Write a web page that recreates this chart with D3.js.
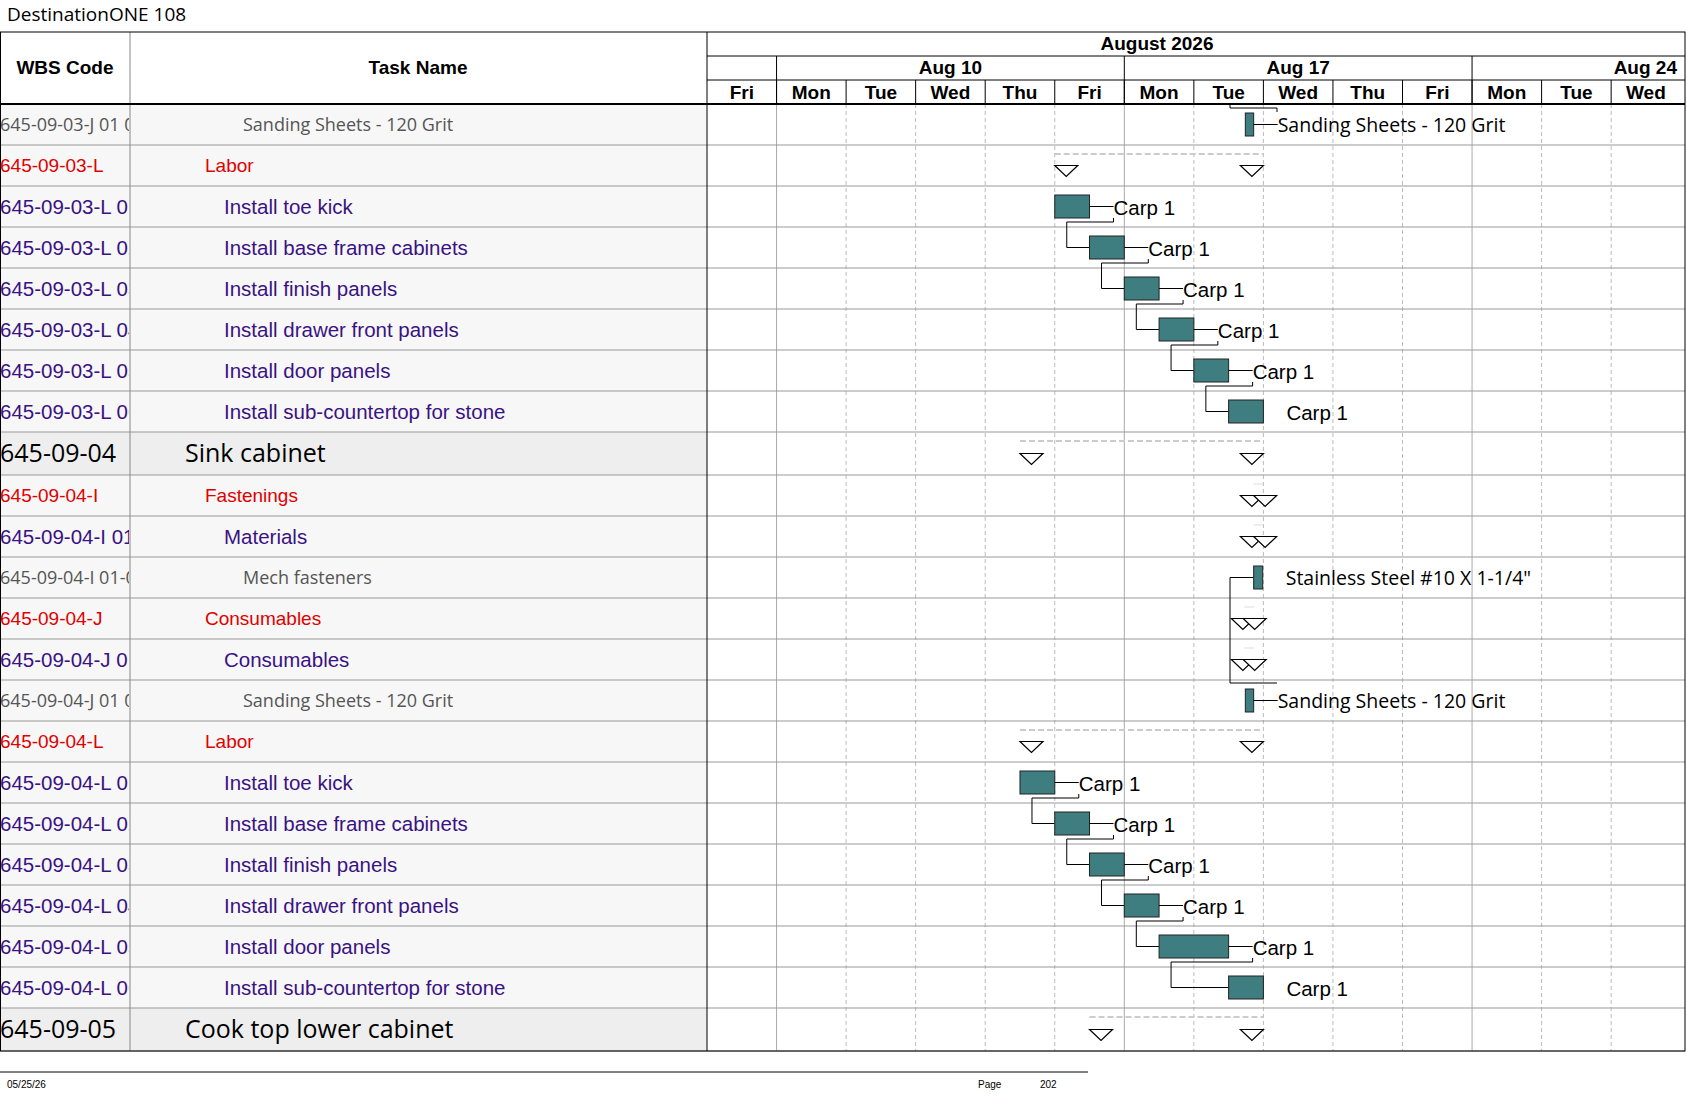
<!DOCTYPE html>
<html>
<head>
<meta charset="utf-8">
<script src="https://cdn.jsdelivr.net/npm/d3@7"></script>
<style>
  body { margin: 0; background: #fff; }
  svg { display: block; }
</style>
</head>
<body>
<svg id="chart" width="1687" height="1097"></svg>
<script>
// working-day index: 0 = Fri Aug 7, 1 = Mon Aug 10 ... (weekends collapsed)
var dayNames = ["Fri", "Mon", "Tue", "Wed", "Thu", "Fri", "Mon", "Tue", "Wed", "Thu", "Fri", "Mon", "Tue", "Wed"];
var weekLabels = ["Aug 10", "Aug 17", "Aug 24"];
var weekStarts = [1, 6, 11];

var wbsCodes = ["645-09-03-J 01 01", "645-09-03-L", "645-09-03-L 01", "645-09-03-L 02", "645-09-03-L 03",
  "645-09-03-L 04", "645-09-03-L 05", "645-09-03-L 06", "645-09-04", "645-09-04-I", "645-09-04-I 01",
  "645-09-04-I 01-01", "645-09-04-J", "645-09-04-J 01", "645-09-04-J 01 01", "645-09-04-L",
  "645-09-04-L 01", "645-09-04-L 02", "645-09-04-L 03", "645-09-04-L 04", "645-09-04-L 05",
  "645-09-04-L 06", "645-09-05"];
var taskNames = ["Sanding Sheets - 120 Grit", "Labor", "Install toe kick", "Install base frame cabinets",
  "Install finish panels", "Install drawer front panels", "Install door panels", "Install sub-countertop for stone",
  "Sink cabinet", "Fastenings", "Materials", "Mech fasteners", "Consumables", "Consumables",
  "Sanding Sheets - 120 Grit", "Labor", "Install toe kick", "Install base frame cabinets", "Install finish panels",
  "Install drawer front panels", "Install door panels", "Install sub-countertop for stone", "Cook top lower cabinet"];
// row kinds: top = summary, grp = red group, task = purple, res = grey resource
var rowKinds = ["res", "grp", "task", "task", "task", "task", "task", "task", "top", "grp", "task", "res",
  "grp", "task", "res", "grp", "task", "task", "task", "task", "task", "task", "top"];

// bars: row, start, end (working days), label
var barRows   = [0, 2, 3, 4, 5, 6, 7, 11, 14, 16, 17, 18, 19, 20, 21];
var barStarts = [7.74, 5.0, 5.5, 6.0, 6.5, 7.0, 7.5, 7.86, 7.74, 4.5, 5.0, 5.5, 6.0, 6.5, 7.5];
var barEnds   = [7.86, 5.5, 6.0, 6.5, 7.0, 7.5, 8.0, 7.99, 7.86, 5.0, 5.5, 6.0, 6.5, 7.5, 8.0];
var barLabels = ["Sanding Sheets - 120 Grit", "Carp 1", "Carp 1", "Carp 1", "Carp 1", "Carp 1", "Carp 1",
  "Stainless Steel #10 X 1-1/4\"", "Sanding Sheets - 120 Grit", "Carp 1", "Carp 1", "Carp 1", "Carp 1", "Carp 1", "Carp 1"];

// summary spans (start / end triangles)
var sumRows   = [1, 8, 15, 22];
var sumStarts = [5.0, 4.5, 4.5, 5.5];
var sumEnds   = [8.0, 8.0, 8.0, 8.0];
// rows with two end triangles
var dblRows = [9, 10, 12, 13];
var dblEnds = [[8.0, 8.19], [8.0, 8.19], [7.87, 8.04], [7.87, 8.04]];

var svg = d3.select("#chart");
var rowH = 41, topH = 43, bodyTop = 104;
var rowTops = [], rowHs = [];
var yy = bodyTop;
rowKinds.forEach(function (k) { var h = k == "top" ? topH : rowH; rowTops.push(yy); rowHs.push(h); yy += h; });
var bodyBottom = yy;

var ganttL = 707, ganttR = 1685;
var x = d3.scaleLinear().domain([0, 1]).range([ganttL, ganttL + 69.55]);

var colors = { top: "#000", grp: "#e00000", task: "#3a1283", res: "#555" };
var fonts = { top: "25px 'Open Sans', sans-serif", grp: "19px 'Liberation Sans', Arial, sans-serif",
  task: "20.5px 'Liberation Sans', Arial, sans-serif", res: "18px 'Open Sans', sans-serif" };
var indent = { top: 185, grp: 205, task: 224, res: 243 };

// title
svg.append("text").attr("x", 7).attr("y", 21).style("font", "19px 'Open Sans', sans-serif").text("DestinationONE 108");

// row backgrounds (table)
rowKinds.forEach(function (k, i) {
  svg.append("rect").attr("x", 0).attr("y", rowTops[i]).attr("width", ganttL).attr("height", rowHs[i])
    .attr("fill", k == "top" ? "#eeeeee" : "#f7f7f7");
});

// gantt vertical grid
d3.range(1, dayNames.length).forEach(function (d) {
  var wk = weekStarts.indexOf(d) >= 0;
  svg.append("line").attr("x1", x(d)).attr("x2", x(d)).attr("y1", bodyTop).attr("y2", bodyBottom)
    .attr("stroke", wk ? "#aaa" : "#bbb").attr("stroke-width", 1).attr("stroke-dasharray", wk ? null : "4,3");
});

// horizontal row lines
rowTops.concat([bodyBottom]).forEach(function (t) {
  svg.append("line").attr("x1", 0).attr("x2", ganttR).attr("y1", t).attr("y2", t).attr("stroke", "#999");
});
svg.append("line").attr("x1", 130).attr("x2", 130).attr("y1", 32).attr("y2", bodyBottom).attr("stroke", "#888");
svg.append("line").attr("x1", ganttL).attr("x2", ganttL).attr("y1", 32).attr("y2", bodyBottom).attr("stroke", "#000");

// header frame
svg.append("rect").attr("x", 0.5).attr("y", 32).attr("width", ganttR - 0.5).attr("height", bodyBottom - 32)
  .attr("fill", "none").attr("stroke", "#000");
svg.append("line").attr("x1", 0).attr("x2", ganttR).attr("y1", bodyTop).attr("y2", bodyTop).attr("stroke", "#000").attr("stroke-width", 2);
svg.append("line").attr("x1", ganttL).attr("x2", ganttR).attr("y1", 56).attr("y2", 56).attr("stroke", "#000");
svg.append("line").attr("x1", ganttL).attr("x2", ganttR).attr("y1", 80).attr("y2", 80).attr("stroke", "#000");

var hdrFont = "bold 19px 'Liberation Sans Narrow', 'Liberation Sans', Arial, sans-serif";
svg.append("text").attr("x", 65).attr("y", 74).attr("text-anchor", "middle").style("font", "bold 19px 'Liberation Sans', Arial, sans-serif").text("WBS Code");
svg.append("text").attr("x", 418).attr("y", 74).attr("text-anchor", "middle").style("font", "bold 19px 'Liberation Sans', Arial, sans-serif").text("Task Name");
svg.append("text").attr("x", 1157).attr("y", 50).attr("text-anchor", "middle").style("font", hdrFont).text("August 2026");

weekStarts.forEach(function (d, i) {
  svg.append("line").attr("x1", x(d)).attr("x2", x(d)).attr("y1", 56).attr("y2", bodyTop).attr("stroke", "#000");
  var last = i == weekStarts.length - 1;
  svg.append("text").attr("x", last ? ganttR - 8 : (x(d) + x(d + 5)) / 2).attr("y", 74)
    .attr("text-anchor", last ? "end" : "middle").style("font", hdrFont).text(weekLabels[i]);
});
dayNames.forEach(function (n, d) {
  if (d > 0) svg.append("line").attr("x1", x(d)).attr("x2", x(d)).attr("y1", 80).attr("y2", bodyTop).attr("stroke", "#000");
  svg.append("text").attr("x", x(d + 0.5)).attr("y", 99).attr("text-anchor", "middle").style("font", hdrFont).text(n);
});

// table text
svg.append("clipPath").attr("id", "wbsClip").append("rect").attr("x", 0).attr("y", 0).attr("width", 129).attr("height", 1097);
rowKinds.forEach(function (k, i) {
  var cy = rowTops[i] + rowHs[i] / 2;
  svg.append("text").attr("x", 0).attr("y", cy).attr("dy", "0.35em").attr("clip-path", "url(#wbsClip)")
    .style("font", fonts[k]).attr("fill", colors[k]).text(wbsCodes[i]);
  svg.append("text").attr("x", indent[k]).attr("y", cy).attr("dy", "0.35em")
    .style("font", fonts[k]).attr("fill", colors[k]).text(taskNames[i]);
});

function mid(r) { return rowTops[r] + rowHs[r] / 2; }
var triW = 23, triH = 11;
function tri(xl, r) {
  var t = mid(r);
  svg.append("path").attr("d", "M" + xl + "," + t + "h" + triW + "l" + (-triW / 2) + "," + triH + "z")
    .attr("fill", "#fff").attr("stroke", "#000").attr("stroke-width", 1.2);
}

// summary spans
sumRows.forEach(function (r, i) {
  svg.append("line").attr("x1", x(sumStarts[i])).attr("x2", x(sumEnds[i])).attr("y1", rowTops[r] + 9).attr("y2", rowTops[r] + 9)
    .attr("stroke", "#ccc").attr("stroke-width", 2).attr("stroke-dasharray", "6,3");
  tri(x(sumStarts[i]), r);
  tri(x(sumEnds[i]) - triW, r);
});
dblRows.forEach(function (r, i) {
  svg.append("line").attr("x1", x(dblEnds[i][0]) - 10).attr("x2", x(dblEnds[i][0])).attr("y1", rowTops[r] + 9).attr("y2", rowTops[r] + 9).attr("stroke", "#ddd");
  dblEnds[i].forEach(function (e) { tri(x(e) - triW, r); });
});

// dependency links between consecutive labour tasks
var barH = 23;
barRows.forEach(function (r, i) {
  if (i == 0 || barRows[i - 1] != r - 1 || barLabels[i] != "Carp 1") return;
  var px = x(barStarts[i - 1]) + 12, lx = x(barEnds[i - 1]) + 24, by = mid(r - 1) + barH / 2 + 4;
  svg.append("path").attr("d", "M" + lx + "," + (by - 4) + "V" + by + "H" + px + "V" + mid(r) + "H" + x(barStarts[i]))
    .attr("fill", "none").attr("stroke", "#000");
});
// links on the resource rows
svg.append("path").attr("d", "M1230," + (rowTops[0] - 0) + "V" + (rowTops[0] + 4) + "H1277V" + (rowTops[0] + 8))
  .attr("fill", "none").attr("stroke", "#000");
svg.append("path").attr("d", "M" + x(barStarts[7]) + "," + mid(11) + "H1230V" + (rowTops[14] + 3) + "H1277")
  .attr("fill", "none").attr("stroke", "#000");

// bars
barRows.forEach(function (r, i) {
  var x0 = x(barStarts[i]), x1 = x(barEnds[i]), cy = mid(r);
  svg.append("rect").attr("x", x0).attr("y", cy - barH / 2).attr("width", x1 - x0).attr("height", barH)
    .attr("fill", "#3f7e80").attr("stroke", "#222");
  var res = barLabels[i] != "Carp 1";
  var nextLinked = barRows[i + 1] == r + 1 && barLabels[i + 1] == "Carp 1";
  var withLine = res ? (barLabels[i][0] == "S" && barLabels[i][1] == "a") : nextLinked;
  var tx = withLine ? x1 + 24 : (res ? x1 + 23 : x1 + 23);
  if (withLine) svg.append("line").attr("x1", x1).attr("x2", x1 + 24).attr("y1", cy).attr("y2", cy).attr("stroke", "#000");
  svg.append("text").attr("x", tx).attr("y", cy + 1).attr("dy", "0.35em")
    .style("font", res ? "19.5px 'Open Sans', sans-serif" : "20.5px 'Liberation Sans', Arial, sans-serif").text(barLabels[i]);
});

// footer
svg.append("line").attr("x1", 0).attr("x2", 1088).attr("y1", 1072).attr("y2", 1072).attr("stroke", "#000");
var ff = "10px 'Liberation Sans', Arial, sans-serif";
svg.append("text").attr("x", 7).attr("y", 1088).style("font", ff).text("05/25/26");
svg.append("text").attr("x", 978).attr("y", 1088).style("font", ff).text("Page");
svg.append("text").attr("x", 1040).attr("y", 1088).style("font", ff).text("202");
</script>
</body>
</html>
